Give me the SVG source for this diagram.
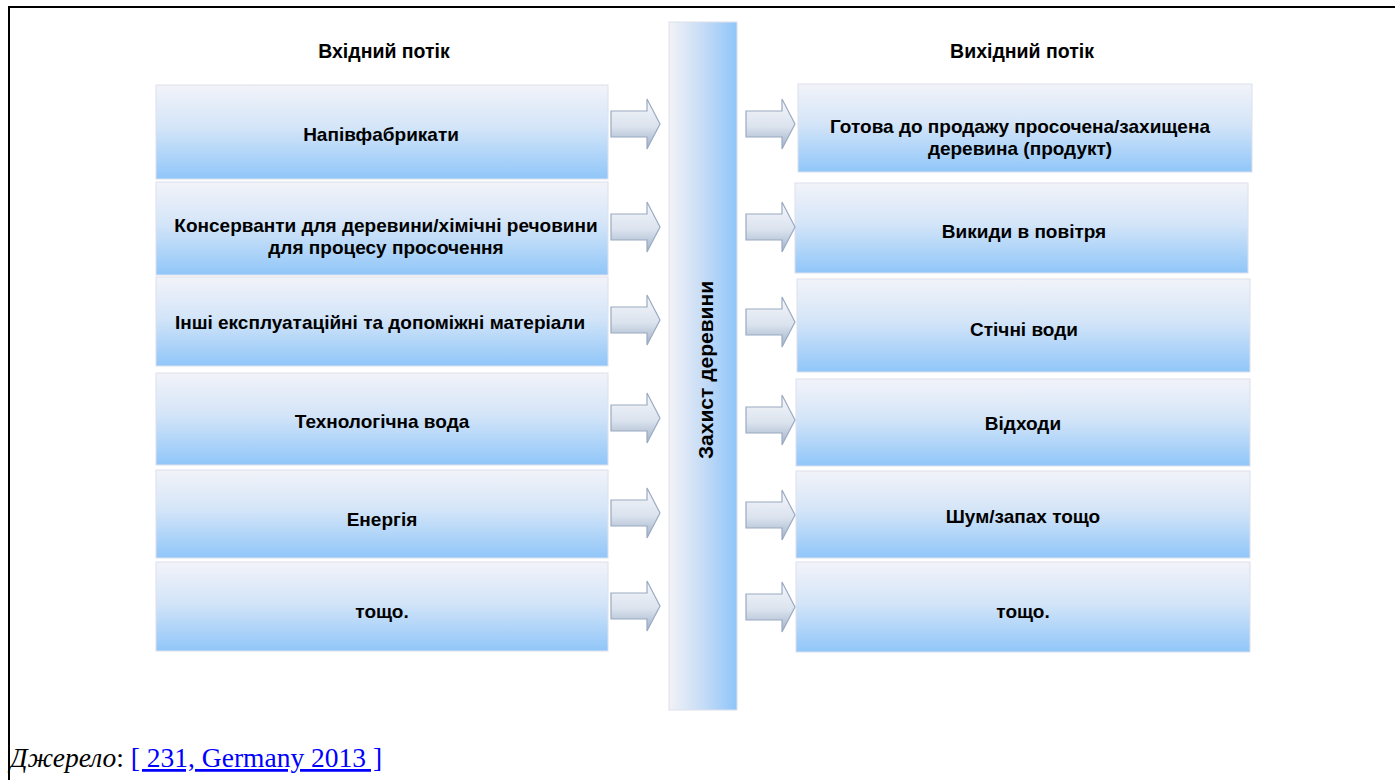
<svg xmlns="http://www.w3.org/2000/svg" width="1395" height="780" viewBox="0 0 1395 780">
<defs>
<linearGradient id="gBox" x1="0" y1="0" x2="0" y2="1">
<stop offset="0" stop-color="#f2f3f9"/>
<stop offset="0.45" stop-color="#d4e5f8"/>
<stop offset="1" stop-color="#90c6f9"/>
</linearGradient>
<linearGradient id="gBar" x1="0" y1="0" x2="1" y2="0">
<stop offset="0" stop-color="#f2f2f6"/>
<stop offset="0.5" stop-color="#c6dcf6"/>
<stop offset="1" stop-color="#8ec5f9"/>
</linearGradient>
<linearGradient id="gArr" x1="0" y1="0" x2="0" y2="1">
<stop offset="0" stop-color="#f6f7fb"/>
<stop offset="0.55" stop-color="#dbe3ee"/>
<stop offset="1" stop-color="#9fb0c8"/>
</linearGradient>
<path id="arr" d="M0,-13 L36,-13 L36,-25 L49,0 L36,25 L36,13 L0,13 Z"/>
</defs>
<style>
.box{fill:url(#gBox);stroke:#dde0ec;stroke-width:1}
.lbl{font-family:"Liberation Sans",Arial,sans-serif;font-weight:bold;font-size:19px;fill:#000;text-anchor:middle}
.hdr{font-family:"Liberation Sans",Arial,sans-serif;font-weight:bold;font-size:19.5px;fill:#000;text-anchor:middle}
.arrow{fill:url(#gArr);stroke:#9aaac2;stroke-width:1.2}
</style>
<rect width="1395" height="780" fill="#fff"/>
<path d="M9,780 L9,7 L1395,7" fill="none" stroke="#000" stroke-width="2"/>
<text class="hdr" x="384" y="58">Вхідний потік</text>
<text class="hdr" x="1022" y="58">Вихідний потік</text>
<g id="center">
<rect x="669" y="22" width="68" height="688" fill="url(#gBar)" stroke="#dde0ec"/>
<text class="lbl" transform="translate(713,370) rotate(-90)" style="font-size:21px">Захист деревини</text>
</g>
<g id="in1"><rect class="box" x="156" y="85" width="452" height="94"/><text class="lbl" x="381" y="141">Напівфабрикати</text></g>
<g id="in2"><rect class="box" x="156" y="182" width="452" height="93"/><text class="lbl" x="386" y="232">Консерванти для деревини/хімічні речовини</text><text class="lbl" x="386" y="254">для процесу просочення</text></g>
<g id="in3"><rect class="box" x="156" y="277" width="452" height="89"/><text class="lbl" x="380" y="329">Інші експлуатаційні та допоміжні матеріали</text></g>
<g id="in4"><rect class="box" x="156" y="373" width="452" height="92"/><text class="lbl" x="382" y="428">Технологічна вода</text></g>
<g id="in5"><rect class="box" x="156" y="470" width="452" height="88"/><text class="lbl" x="382" y="526">Енергія</text></g>
<g id="in6"><rect class="box" x="156" y="562" width="452" height="89"/><text class="lbl" x="382" y="618">тощо.</text></g>
<g id="out1"><rect class="box" x="798" y="84" width="454" height="88"/><text class="lbl" x="1020" y="133">Готова до продажу просочена/захищена</text><text class="lbl" x="1020" y="155">деревина (продукт)</text></g>
<g id="out2"><rect class="box" x="795" y="183" width="453" height="90"/><text class="lbl" x="1024" y="238">Викиди в повітря</text></g>
<g id="out3"><rect class="box" x="797" y="279" width="453" height="93"/><text class="lbl" x="1024" y="336">Стічні води</text></g>
<g id="out4"><rect class="box" x="796" y="379" width="454" height="87"/><text class="lbl" x="1023" y="430">Відходи</text></g>
<g id="out5"><rect class="box" x="796" y="471" width="454" height="87"/><text class="lbl" x="1023" y="523">Шум/запах тощо</text></g>
<g id="out6"><rect class="box" x="796" y="562" width="454" height="90"/><text class="lbl" x="1023" y="618">тощо.</text></g>
<g id="connectors">
<use href="#arr" class="arrow" x="611" y="124"/>
<use href="#arr" class="arrow" x="611" y="227"/>
<use href="#arr" class="arrow" x="611" y="320"/>
<use href="#arr" class="arrow" x="611" y="418"/>
<use href="#arr" class="arrow" x="611" y="513"/>
<use href="#arr" class="arrow" x="611" y="606"/>
<use href="#arr" class="arrow" x="746" y="124"/>
<use href="#arr" class="arrow" x="746" y="227"/>
<use href="#arr" class="arrow" x="746" y="322"/>
<use href="#arr" class="arrow" x="746" y="420"/>
<use href="#arr" class="arrow" x="746" y="515"/>
<use href="#arr" class="arrow" x="746" y="607"/>
</g>
<text x="10" y="767" font-family="'Liberation Serif','Times New Roman',serif" font-size="27.5" fill="#000"><tspan font-style="italic">Джерело</tspan>: <tspan fill="#0000ff" text-decoration="underline">[ 231, Germany 2013 ]</tspan></text>
</svg>
